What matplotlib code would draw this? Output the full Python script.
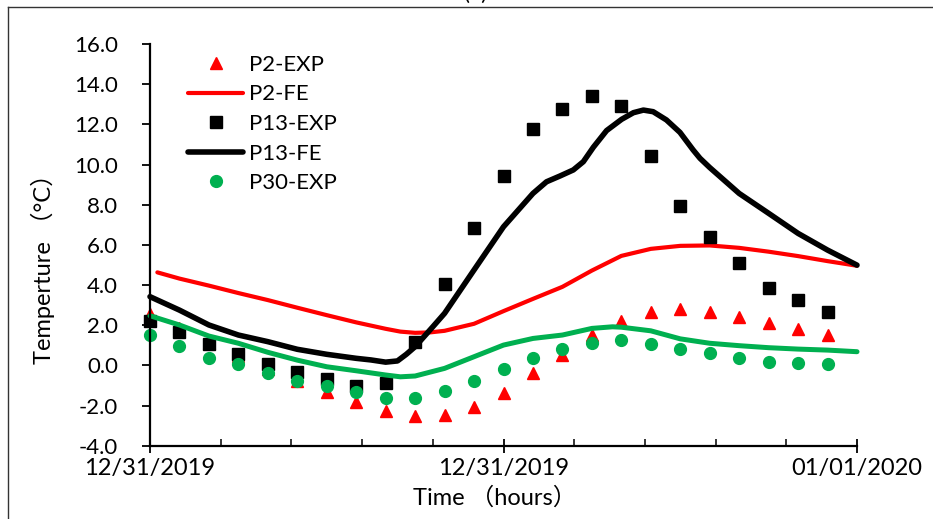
import numpy as np
import matplotlib
matplotlib.use("Agg")
import matplotlib.pyplot as plt
from matplotlib.lines import Line2D

plt.rcParams['font.family'] = ['Lato', 'Noto Sans CJK SC', 'DejaVu Sans']
plt.rcParams['axes.unicode_minus'] = False

# measured points, one per hour
hours = list(range(24))
p2_exp = [2.55, 1.85, 1.1, 0.45, -0.2, -0.8, -1.31, -1.81, -2.26, -2.52, -2.49, -2.06,
          -1.36, -0.40, 0.51, 1.51, 2.22, 2.67, 2.79, 2.64, 2.39, 2.09, 1.79, 1.51]
p13_exp = [2.22, 1.64, 1.05, 0.55, 0.06, -0.35, -0.70, -1.01, -0.90, 1.18, 4.07, 6.82,
           9.44, 11.77, 12.75, 13.40, 12.91, 10.42, 7.95, 6.37, 5.11, 3.87, 3.25, 2.65]
p30_exp = [1.51, 0.94, 0.38, 0.06, -0.40, -0.77, -1.03, -1.35, -1.61, -1.61, -1.28, -0.77,
           -0.18, 0.38, 0.80, 1.13, 1.26, 1.06, 0.81, 0.60, 0.38, 0.18, 0.13, 0.06]

# FE curves
t_p2 = [0.25, 1, 2, 3, 4, 5, 6, 7, 8, 8.5, 9, 9.5, 10, 11, 12, 13, 14, 15, 16, 17, 18, 19,
        20, 21, 22, 23, 24]
p2_fe = [4.63, 4.32, 3.97, 3.60, 3.25, 2.87, 2.50, 2.14, 1.82, 1.68, 1.62, 1.64, 1.72, 2.07,
         2.70, 3.31, 3.91, 4.72, 5.45, 5.80, 5.95, 5.97, 5.85, 5.66, 5.44, 5.19, 4.96]

t_p13 = [0, 1, 2, 3, 4, 5, 6, 7, 7.5, 8, 8.4, 8.7, 9, 9.6, 10, 11, 12, 13, 13.46, 13.92,
         14.37, 14.71, 15.05, 15.5, 16.01, 16.41, 16.75, 17.08, 17.53, 17.99, 18.44, 18.67,
         19, 20, 21, 22, 23, 24]
p13_fe = [3.42, 2.75, 2.01, 1.51, 1.18, 0.80, 0.55, 0.35, 0.27, 0.16, 0.22, 0.55, 0.93,
          1.92, 2.59, 4.75, 6.90, 8.56, 9.14, 9.43, 9.73, 10.14, 10.86, 11.69, 12.25, 12.58,
          12.71, 12.63, 12.22, 11.6, 10.72, 10.31, 9.85, 8.56, 7.57, 6.57, 5.74, 4.99]

t_p30 = [0, 1, 2, 3, 4, 5, 6, 7, 8, 8.5, 9, 10, 11, 12, 13, 14, 15, 15.7, 16, 17, 18, 19,
         20, 21, 22, 23, 24]
p30_fe = [2.47, 2.01, 1.46, 1.10, 0.65, 0.26, -0.07, -0.27, -0.48, -0.57, -0.53, -0.15, 0.43,
          1.01, 1.34, 1.51, 1.84, 1.92, 1.90, 1.72, 1.32, 1.10, 0.98, 0.88, 0.81, 0.76, 0.68]

xtick_pos = [0, 12, 24]
xtick_labels = ["12/31/2019", "12/31/2019", "01/01/2020"]

red = '#FF0000'
green = '#00B050'

fig = plt.figure(figsize=(9.33, 5.19), dpi=100)
ax = fig.add_axes([150/933, 1-445.7/519, 707/933, 401.7/519])

ax.plot(hours, p2_exp, linestyle='none', marker='^', ms=9, color=red, mec=red, label='P2-EXP', clip_on=False)
ax.plot(t_p2, p2_fe, color=red, lw=3, solid_capstyle='round', label='P2-FE', clip_on=False)
ax.plot(hours, p13_exp, linestyle='none', marker='s', ms=8, color='black', label='P13-EXP', clip_on=False)
ax.plot(t_p13, p13_fe, color='black', lw=4, solid_capstyle='round', label='P13-FE', clip_on=False)
ax.plot(hours, p30_exp, linestyle='none', marker='o', ms=8.5, color=green, mec=green, label='P30-EXP', clip_on=False)
ax.plot(t_p30, p30_fe, color=green, lw=3.6, solid_capstyle='round', label='_nolegend_', clip_on=False)

ax.set_xlim(0, 24)
ax.set_ylim(-4, 16)
ax.set_yticks(np.arange(-4, 16.1, 2))
ax.set_yticklabels(["%.1f" % v for v in np.arange(-4, 16.1, 2)])
ax.set_xticks(xtick_pos)
ax.set_xticklabels(xtick_labels)
ax.set_xticks(np.arange(0, 24.01, 2.4), minor=True)

for s in ['top', 'right']:
    ax.spines[s].set_visible(False)
for s in ['left', 'bottom']:
    ax.spines[s].set_linewidth(1.6)
    ax.spines[s].set_color('black')

ax.tick_params(axis='y', direction='out', length=6, width=1.3, pad=17, labelsize=16)
ax.tick_params(axis='x', which='major', direction='inout', length=10, width=1.3, pad=4, labelsize=17)
ax.tick_params(axis='x', which='minor', direction='in', length=5, width=1.1)

ax.set_ylabel("Temperture （°C）", fontsize=17, ha='center', va='center')
ax.yaxis.set_label_coords(-0.151, 0.455)
ax.set_xlabel("Time （hours）", fontsize=17, ha='center', va='center')
ax.xaxis.set_label_coords(0.488, -0.128)

leg = ax.legend(loc='upper left', bbox_to_anchor=(0.041, 0.995), frameon=False, fontsize=16,
                handlelength=2.5, handletextpad=0.25, labelspacing=0.43, borderaxespad=0)

# outer chart border (runs off the picture on the right and bottom)
fig.add_artist(Line2D([8/933, 8/933], [0, 1-7/519], transform=fig.transFigure, color='#333333', lw=1))
fig.add_artist(Line2D([8/933, 1], [1-7/519, 1-7/519], transform=fig.transFigure, color='#333333', lw=1))
fig.text(476/933, 1-4/519, "(a)", ha='center', va='bottom', fontsize=16)

fig.savefig("out.png", dpi=100)
